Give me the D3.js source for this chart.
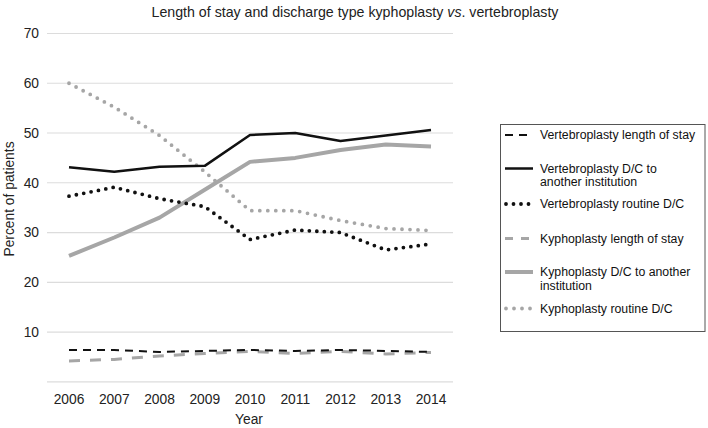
<!DOCTYPE html>
<html><head><meta charset="utf-8">
<script src="https://cdn.jsdelivr.net/npm/d3@7"></script>
<style>body{margin:0;background:#fff}svg{display:block;font-family:"Liberation Sans",Arial,sans-serif}</style>
</head><body>
<svg id="c" width="708" height="428"></svg>
<script>
const years = ["2006","2007","2008","2009","2010","2011","2012","2013","2014"];
const yTicks = [10,20,30,40,50,60,70];
const vertLOS = [6.4,6.4,6.0,6.2,6.4,6.2,6.4,6.2,6.0];
const vertDC = [43.1,42.2,43.2,43.4,49.6,50.0,48.4,49.5,50.6];
const vertRoutine = [37.3,39.1,36.8,35.2,28.6,30.5,30.0,26.5,27.7];
const kyphLOS = [4.2,4.5,5.2,5.7,6.1,5.7,6.1,5.6,5.9];
const kyphDC = [25.3,29.0,33.0,38.6,44.2,45.0,46.6,47.7,47.3];
const kyphRoutine = [60.0,55.2,49.5,42.2,34.4,34.4,32.4,30.8,30.4];
const seriesNames = ["Vertebroplasty length of stay","Vertebroplasty D/C to\nanother institution","Vertebroplasty routine D/C","Kyphoplasty length of stay","Kyphoplasty D/C to another\ninstitution","Kyphoplasty routine D/C"];

const series = [
  {name:seriesNames[0], values:vertLOS, color:"#111", width:2, dash:"8,6", cap:"butt"},
  {name:seriesNames[1], values:vertDC, color:"#111", width:2.5, dash:null, cap:"butt"},
  {name:seriesNames[2], values:vertRoutine, color:"#111", width:3.8, dash:"0,7.5", cap:"round"},
  {name:seriesNames[3], values:kyphLOS, color:"#a6a6a6", width:3, dash:"11,10", cap:"butt"},
  {name:seriesNames[4], values:kyphDC, color:"#a6a6a6", width:4, dash:null, cap:"butt"},
  {name:seriesNames[5], values:kyphRoutine, color:"#a6a6a6", width:3.8, dash:"0,8", cap:"round"}
];

const svg = d3.select("#c");
const x = d3.scalePoint().domain(years).range([69,431]);
const y = d3.scaleLinear().domain([0,70]).range([381.8,33.5]);
const gridX0 = 47, gridX1 = 453;
const fs = 13.8;

svg.append("g").selectAll("line").data([0].concat(yTicks)).join("line")
  .attr("x1",gridX0).attr("x2",gridX1)
  .attr("y1",d=>y(d)).attr("y2",d=>y(d))
  .attr("stroke","#dcdcdc").attr("stroke-width",1.2);

svg.append("g").selectAll("text").data(yTicks).join("text")
  .attr("x",39).attr("y",d=>y(d)).attr("dy","0.35em")
  .attr("text-anchor","end").attr("font-size",fs).attr("fill","#222")
  .text(d=>d);

svg.append("g").selectAll("text").data(years).join("text")
  .attr("x",d=>x(d)).attr("y",399).attr("dy","0.35em")
  .attr("text-anchor","middle").attr("font-size",fs).attr("fill","#222")
  .text(d=>d);

svg.append("text").attr("x",249).attr("y",419).attr("dy","0.35em")
  .attr("text-anchor","middle").attr("font-size",fs).attr("fill","#222").text("Year");
svg.append("text").attr("transform","translate(9,199) rotate(-90)").attr("dy","0.35em")
  .attr("text-anchor","middle").attr("font-size",fs).attr("fill","#222").text("Percent of patients");

const t = svg.append("text").attr("x",355).attr("y",12).attr("dy","0.35em")
  .attr("text-anchor","middle").attr("font-size",14.2).attr("fill","#222");
t.append("tspan").text("Length of stay and discharge type kyphoplasty ");
t.append("tspan").attr("font-style","italic").text("vs");
t.append("tspan").text(". vertebroplasty");

const line = d3.line().x((d,i)=>x(years[i])).y(d=>y(d));
const drawOrder = [4,5,1,2,3,0];
drawOrder.forEach(k=>{
  const s = series[k];
  svg.append("path").datum(s.values).attr("d",line)
    .attr("fill","none").attr("stroke",s.color).attr("stroke-width",s.width)
    .attr("stroke-dasharray",s.dash).attr("stroke-linecap",s.cap).attr("stroke-linejoin","round");
});

svg.append("rect").attr("x",500.5).attr("y",124.5).attr("width",204.5).attr("height",207)
  .attr("fill","#fff").attr("stroke","#555").attr("stroke-width",1);
const legY = [135,168.5,204,238.5,272,308.5];
series.forEach((s,i)=>{
  const yy = legY[i];
  const lg = svg.append("g");
  let dash = s.dash;
  if(i===0) dash="8,6";
  if(i===3) dash="8,8";
  lg.append("line").attr("x1",i===2||i===5?506:505).attr("x2",533).attr("y1",yy).attr("y2",yy)
    .attr("stroke",s.color).attr("stroke-width",s.width).attr("stroke-dasharray",dash).attr("stroke-linecap",s.cap);
  const lines = s.name.split("\n");
  lines.forEach((ln,j)=>{
    lg.append("text").attr("x",540).attr("y",yy+j*13.5).attr("dy","0.35em")
      .attr("font-size",12.3).attr("fill","#111").text(ln);
  });
});
</script>
</body></html>
